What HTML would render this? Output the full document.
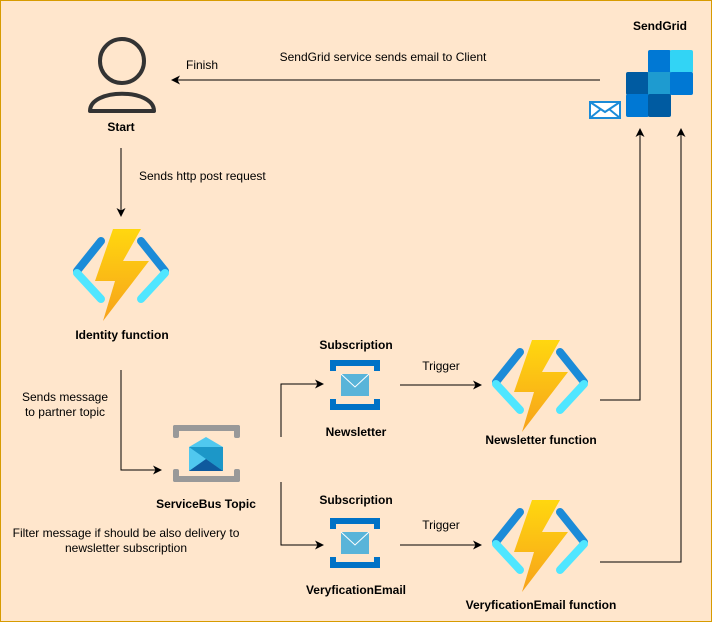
<!DOCTYPE html>
<html><head><style>
body{margin:0;background:#fff}
svg{display:block}
text{font-family:"Liberation Sans",Arial,sans-serif;font-size:12px;fill:#000}
.b{font-weight:bold}
</style></head><body>
<svg width="712" height="622" viewBox="0 0 712 622" xmlns="http://www.w3.org/2000/svg">
<defs>
<marker id="a" markerWidth="9" markerHeight="9" refX="8" refY="4.5" orient="auto" markerUnits="userSpaceOnUse"><path d="M0,0L9,4.5L0,9L2.5,4.5z" fill="#000"/></marker>
<linearGradient id="bolt" x1="0" y1="0" x2="0" y2="1"><stop offset="0" stop-color="#FFD70F"/><stop offset="1" stop-color="#F7A21B"/></linearGradient>
<g id="fn">
<path d="M30,12L6,42" stroke="#1B8BD8" stroke-width="8" stroke-linecap="round"/>
<path d="M6,44L30,70" stroke="#50E6FF" stroke-width="8" stroke-linecap="round"/>
<path d="M70,12L94,42" stroke="#1B8BD8" stroke-width="8" stroke-linecap="round"/>
<path d="M94,44L70,70" stroke="#50E6FF" stroke-width="8" stroke-linecap="round"/>
<polygon points="42,0 70,0 52,32 78,32 32,92 44,52 24,52" fill="url(#bolt)"/>
</g>
<g id="sub">
<rect x="0" y="0" width="50" height="6" fill="#0072C6"/><rect x="0" y="0" width="6" height="11" fill="#0072C6"/><rect x="44" y="0" width="6" height="11" fill="#0072C6"/>
<rect x="0" y="44" width="50" height="6" fill="#0072C6"/><rect x="0" y="39" width="6" height="11" fill="#0072C6"/><rect x="44" y="39" width="6" height="11" fill="#0072C6"/>
<rect x="11" y="14" width="28" height="22" fill="#59B4D9"/>
<path d="M11,14L25,27L39,14" fill="none" stroke="#fff" stroke-width="1"/>
</g>
</defs>
<rect x="0.5" y="0.5" width="711" height="621" fill="#FFE6CC" stroke="#D79B00"/>

<circle cx="122" cy="61" r="22" fill="none" stroke="#333" stroke-width="4"/>
<path d="M90,111C90,88 154,88 154,111Z" fill="none" stroke="#333" stroke-width="4" stroke-linejoin="round"/>
<text x="121" y="131" class="b" text-anchor="middle">Start</text>

<line x1="600" y1="80" x2="172" y2="80" stroke="#000" marker-end="url(#a)"/>
<text x="186" y="69">Finish</text>
<text x="383" y="61" text-anchor="middle">SendGrid service sends email to Client</text>

<line x1="121" y1="148" x2="121" y2="216" stroke="#000" marker-end="url(#a)"/>
<text x="139" y="180">Sends http post request</text>

<use href="#fn" x="71" y="229"/>
<text x="122" y="339" class="b" text-anchor="middle">Identity function</text>

<polyline points="121,370 121,470 161,470" fill="none" stroke="#000" marker-end="url(#a)"/>
<text x="65" y="401" text-anchor="middle">Sends message</text>
<text x="65" y="416" text-anchor="middle">to partner topic</text>

<g transform="translate(173,425)">
<rect x="0" y="0" width="67" height="6" rx="2" fill="#999"/><rect x="0" y="0" width="6" height="13" rx="2" fill="#999"/><rect x="61" y="0" width="6" height="13" rx="2" fill="#999"/>
<rect x="0" y="51" width="67" height="6" rx="2" fill="#999"/><rect x="0" y="44" width="6" height="13" rx="2" fill="#999"/><rect x="61" y="44" width="6" height="13" rx="2" fill="#999"/>
<polygon points="16,22 33,12 50,22 50,46 16,46" fill="#50C8EF"/>
<polygon points="16,22 50,22 50,46" fill="#1C97C8"/>
<polygon points="16,46 33,34 50,46" fill="#0F5A9E"/>
</g>
<text x="206" y="508" class="b" text-anchor="middle">ServiceBus Topic</text>
<text x="126" y="537" text-anchor="middle">Filter message if should be also delivery to</text>
<text x="126" y="552" text-anchor="middle">newsletter subscription</text>

<polyline points="281,437 281,384 323,384" fill="none" stroke="#000" marker-end="url(#a)"/>
<polyline points="281,482 281,545 323,545" fill="none" stroke="#000" marker-end="url(#a)"/>

<use href="#sub" x="330" y="360"/>
<use href="#sub" x="330" y="518"/>
<text x="356" y="349" class="b" text-anchor="middle">Subscription</text>
<text x="356" y="436" class="b" text-anchor="middle">Newsletter</text>
<text x="356" y="504" class="b" text-anchor="middle">Subscription</text>
<text x="356" y="594" class="b" text-anchor="middle">VeryficationEmail</text>

<line x1="400" y1="385" x2="481" y2="385" stroke="#000" marker-end="url(#a)"/>
<line x1="400" y1="545" x2="481" y2="545" stroke="#000" marker-end="url(#a)"/>
<text x="441" y="370" text-anchor="middle">Trigger</text>
<text x="441" y="529" text-anchor="middle">Trigger</text>

<use href="#fn" x="490" y="340"/>
<use href="#fn" x="490" y="500"/>
<text x="541" y="444" class="b" text-anchor="middle">Newsletter function</text>
<text x="541" y="609" class="b" text-anchor="middle">VeryficationEmail function</text>

<polyline points="600,400 640,400 640,129" fill="none" stroke="#000" marker-end="url(#a)"/>
<polyline points="600,562 681,562 681,129" fill="none" stroke="#000" marker-end="url(#a)"/>

<g transform="translate(626,50)">
<rect x="22" y="0" width="23" height="23" rx="2" fill="#0078D4"/>
<rect x="44" y="0" width="23" height="23" rx="2" fill="#32D4F5"/>
<rect x="0" y="22" width="23" height="23" rx="2" fill="#005BA1"/>
<rect x="22" y="22" width="23" height="23" fill="#1E9BD0"/>
<rect x="44" y="22" width="23" height="23" rx="2" fill="#0078D4"/>
<rect x="0" y="44" width="23" height="23" rx="2" fill="#0078D4"/>
<rect x="22" y="44" width="23" height="23" rx="2" fill="#005BA1"/>
</g>
<text x="660" y="30" class="b" text-anchor="middle">SendGrid</text>
<rect x="590" y="102" width="30" height="16" fill="#fff" stroke="#1B8BD8" stroke-width="2"/>
<path d="M590,102L605,112L620,102M590,118L601,109M620,118L609,109" fill="none" stroke="#1B8BD8" stroke-width="2"/>
</svg>
</body></html>
